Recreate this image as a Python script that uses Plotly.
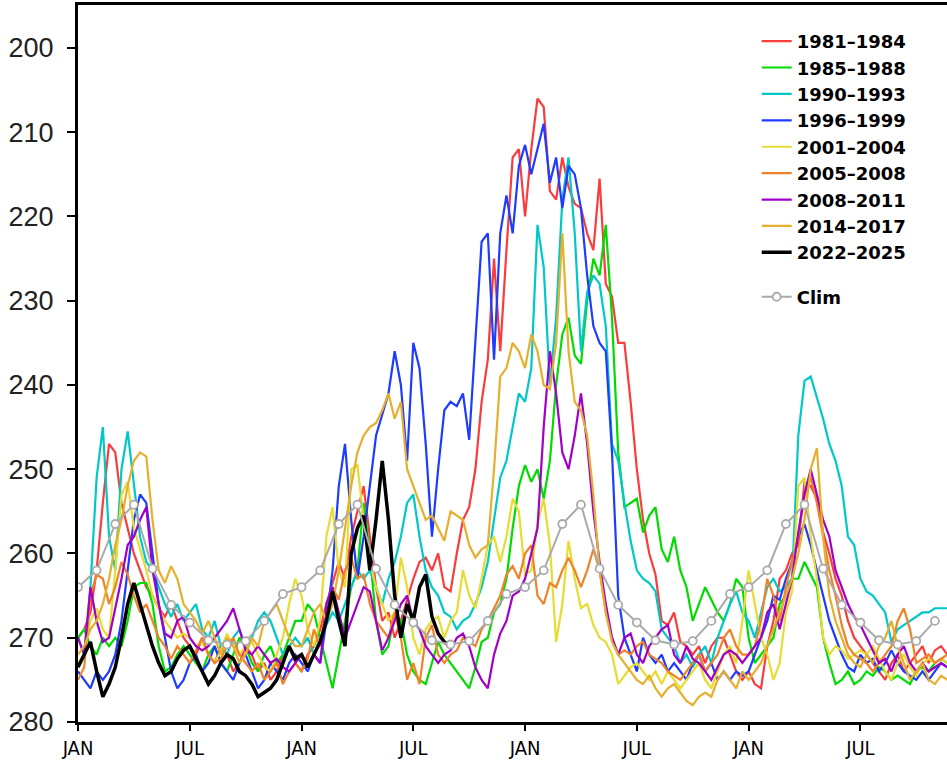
import numpy as np
import plotly.graph_objects as go

# Dekadal samples (3 per month), x in months since Jan of year 1
names = ["1981–1984", "1985–1988", "1990–1993", "1996–1999", "2001–2004",
         "2005–2008", "2008–2011", "2014–2017", "2022–2025"]
colors = ["rgb(250,60,60)", "rgb(0,220,0)", "rgb(0,200,200)", "rgb(30,60,255)",
          "rgb(230,220,50)", "rgb(240,130,40)", "rgb(160,0,200)", "rgb(230,175,45)", "black"]

red = [270, 269, 267, 262, 254, 247, 248, 254, 257, 260, 262, 264, 265, 266.5, 267.5, 266, 268, 270, 271, 272, 270, 272, 273, 271, 272, 274, 273, 271, 272, 274, 273, 275, 274, 272, 271, 273,
       274, 272, 271, 269, 266, 263.5, 261, 263, 258, 255, 252, 258, 264, 268, 267, 270, 268, 265.5, 263, 261, 260.5, 262, 260, 264, 264.5, 260, 256, 254.5, 250, 242, 237, 225, 236, 224, 213, 212,
       220, 212, 206, 207, 217, 218, 213, 216.5, 218.5, 219, 222, 224, 215.5, 228, 229.5, 235, 235, 242, 250, 256, 260, 262.5, 268, 268.5, 267, 270.5, 271, 272, 271, 273, 271, 270, 270, 272, 274, 275,
       274, 275.5, 276, 271, 268, 263, 262, 260, 259, 251.5, 252, 253.5, 257.5, 260, 263, 265, 268, 270, 271, 272, 273, 274, 275, 273, 272, 274, 273, 272, 271, 273, 271.5, 271, 272]
green = [270, 269, 271, 272, 270, 271, 270, 271, 268, 264, 263.5, 263.5, 266, 271, 274, 273.5, 272, 271, 272, 273, 274, 272, 271, 273, 274, 272, 270, 271, 273, 274, 272, 271, 273, 272, 270, 268,
         268, 266, 267, 270, 273, 276, 272, 268, 264, 262, 254, 260, 268, 272, 271, 267, 268, 272, 274, 275, 275.5, 273, 270.5, 272, 273, 274, 275, 276, 273.5, 270.5, 270, 267, 266, 263, 257, 252,
         249.5, 251.5, 250, 253.5, 249, 240, 234, 232, 236.5, 237.5, 230, 225, 227, 221, 232, 248, 254.5, 254, 253.5, 257.5, 255.5, 254.5, 259.5, 261, 258, 262, 264, 268, 266, 264, 265.5, 267, 268, 266, 263, 264,
         270, 273, 272, 271, 270, 266, 265, 263, 263, 261, 262.5, 264, 270, 273, 275.5, 275, 274, 275.5, 275, 274, 274.5, 273.5, 274, 275, 274.5, 275, 275.5, 274, 273.5, 274, 273, 272.5, 273]
cyan = [270, 272, 264, 251, 245, 258, 262, 250, 245.5, 252, 258, 261, 262, 264, 266, 267.5, 266, 268, 267, 266, 269, 270, 268, 271, 272, 270, 269, 271, 270, 268, 267, 268, 270, 272, 271, 270,
        271, 270, 272, 270, 268.5, 267, 268, 266, 264, 262, 263, 262, 264, 266, 263, 261, 258, 254, 253, 258, 262, 264, 265, 267, 267.5, 269, 268, 267.5, 266, 264, 261, 256, 251, 249, 245, 241,
        242, 238, 221, 226, 240, 232, 218, 213, 222, 236, 229, 227, 228, 233, 247, 249, 254, 258.5, 262, 263, 263.5, 264.5, 269, 270, 271, 273, 272, 273.5, 272, 271, 273, 270, 268, 266, 264.5, 267,
        268, 270, 267, 264, 263, 264.5, 264, 263, 246, 239.5, 239, 241.5, 244, 247, 249, 252, 258, 259, 263, 264.5, 265, 266, 267, 270.5, 269, 268.5, 268, 267.5, 267, 267, 266.5, 266.5, 266.5]
blue = [274, 275, 276, 274, 275, 274, 272, 268, 262, 256, 253, 254, 260, 266, 270, 274, 276, 275, 273, 272, 274, 273, 271, 273, 274, 275, 273, 272, 274, 276, 275, 273, 274, 275, 273, 272,
        273, 274, 272, 273, 268, 262, 252, 247, 256, 263, 258, 252, 246, 243.5, 241, 236, 240, 249, 235, 238, 247, 258, 250, 243, 242, 242.5, 241, 246.5, 235, 223, 222, 237, 222, 217.5, 222, 214,
        211.5, 215, 212, 209, 216, 213, 219, 214, 215, 219, 227, 233, 235, 236, 248, 265, 270, 272, 274, 270, 272, 273, 272, 274, 273, 274, 275, 273, 272, 274, 273, 275, 274, 275, 274, 274.5,
        274, 272, 270, 268, 265, 265.5, 263, 261, 258, 256.5, 259, 262, 265, 268, 270, 272, 273.5, 274, 272, 273, 272.5, 274, 273, 271.5, 273, 274, 274.5, 275, 274, 275, 274, 273, 273.5]
yellow = [273, 272, 268, 266.5, 269, 270, 262, 253, 251.5, 257, 259.5, 262, 265, 266.5, 268, 269, 270, 269.5, 270, 271, 270.5, 272, 273, 271.5, 269.5, 271, 272, 271, 270.5, 272, 273.5, 274, 272, 270, 266, 263,
          265, 269, 271, 268, 258, 254.5, 262, 264, 250, 249.5, 256, 261, 264, 266, 268, 267, 260.5, 264, 270, 272, 269, 268, 267.5, 270, 268, 267, 262, 265, 266.5, 263, 259, 258, 261, 258, 253.5, 255,
          262.5, 262, 256.5, 253.5, 259, 270.5, 266, 258.5, 263, 266.5, 266, 268.5, 270, 270.5, 272, 275.5, 274.5, 273.5, 273, 274, 275, 274, 275.5, 274, 275, 276, 275, 274, 273, 275, 276, 274, 272, 271, 273, 268,
          262, 266, 270, 272, 275, 273, 267, 264.5, 252, 251, 258, 263, 270, 272, 271, 271.5, 272.5, 272, 271.5, 272, 271, 272.5, 274, 275, 273, 272, 273.5, 274.5, 273, 272.5, 273, 272.5, 273]
orange = [275, 273.5, 265, 262.5, 263, 266, 264, 261, 262.5, 265, 267, 266, 268, 270, 271, 272.5, 271, 272, 273, 271.5, 270, 272, 273, 272.5, 271, 270, 272, 273, 274, 273, 275, 274, 273, 275.5, 274, 273,
          274, 272.5, 269, 271, 266, 264, 265.5, 262, 260.5, 263, 262.5, 266, 268, 269, 270, 267, 270, 275, 273, 275.5, 270, 268.5, 272, 273, 272, 271.5, 270, 270.5, 271, 269, 268, 266.5, 265, 262.5, 261.5, 263,
          260, 259, 265, 266, 263.5, 264, 262, 260.5, 262, 264, 262, 259.5, 262, 267, 270, 272, 271.5, 272, 271, 270.5, 272, 272.5, 273, 274, 274.5, 275, 274, 273, 272, 274, 273, 272, 270, 269, 271, 272,
          272, 271, 268, 263, 265, 268, 264, 261, 258, 253, 251, 254, 258, 262, 265, 268.5, 271, 272, 272.5, 273, 274, 273, 272, 271, 268, 266.5, 269, 273, 272.5, 272, 273, 272.5, 272]
purple = [270, 272, 264, 268, 270.5, 270, 266.5, 263, 259, 258, 256, 254.5, 262, 266, 269.5, 270, 268, 267.5, 270, 271, 271.5, 271, 270, 269, 268, 266.5, 269, 271.5, 272, 271, 272, 273, 272.5, 273.5, 274, 273,
          272, 273.5, 272, 273, 266, 264, 267, 270, 268, 266, 264, 264.5, 268, 271.5, 270, 268, 266, 265, 268, 269, 271, 272, 273, 272, 271.5, 270, 269.5, 271, 273.5, 275, 276, 272, 269.5, 268, 265, 264.5,
          263, 260, 257, 245, 236, 241, 248, 250, 246, 241, 247, 255, 261, 266, 270, 272, 270, 269.5, 272, 273, 271, 270, 269, 268.5, 272, 273, 271, 272.5, 273, 274, 275, 273.5, 272, 271.5, 272, 273,
          272, 271, 270, 267, 266, 269, 266, 263, 257.5, 253, 250, 253, 256, 258, 262, 264, 266, 267.5, 268.5, 270, 271.5, 273, 272.5, 274, 272, 271, 273, 274, 273, 274, 273.5, 273, 273.5]
gold = [272, 271, 269, 268, 266, 263, 259, 256, 252, 249, 248, 248.5, 256, 262, 263.5, 261.5, 263, 266, 267, 268, 269.5, 268, 270, 272, 270, 271, 273, 272, 270, 271, 268, 267, 266, 268, 270, 271,
        271, 269, 267, 266, 268, 266, 262, 257, 252, 248, 246, 245, 244.5, 243, 241, 244, 242, 250, 252, 254, 256, 255.5, 257, 258.5, 255, 255.5, 256, 259, 260.5, 259.5, 259, 250, 239, 238, 235, 236,
        238, 234, 236, 240, 240.5, 235, 222, 236, 242, 243, 246, 253, 262, 267, 270.5, 272, 273, 274, 275, 275.5, 274.5, 276, 277, 276, 275.5, 276.5, 277.5, 278, 277, 276.5, 277, 275, 274, 275, 276, 274,
        275, 274, 273, 271, 269, 267, 265, 263, 260, 256, 250, 247.5, 258, 265, 268, 270, 272, 273, 273.5, 272, 273, 271, 270, 268, 271, 273, 275, 274, 273, 275, 275.5, 274.5, 275]
black = [273.5, 272, 270.5, 274, 277, 275.5, 273.5, 270, 266, 263.5, 266, 268.5, 271, 273, 274.5, 274, 272.5, 271.5, 271, 272.5,
         274, 275.5, 274.5, 273, 272, 272.5, 274, 274.5, 275.5, 277, 276.5, 276, 275, 273, 271, 272.5, 272, 273.5, 272, 270.5,
         268, 264.5, 268, 271, 260, 257, 255.5, 262, 256, 249, 256, 265, 270, 266, 268, 264, 262.5, 267.5, 269.5, 270.5, 271]

clim_monthly = [264.0, 262.0, 256.5, 254.2, 261.8, 266.1, 268.2, 270.3, 270.8, 270.4, 268.0, 264.8]
clim = (clim_monthly * 4)[:47]
clim_months = list(range(47))

tick_months = [0, 6, 12, 18, 24, 30, 36, 42]
tick_labels = ["JAN", "JUL", "JAN", "JUL", "JAN", "JUL", "JAN", "JUL"]
y_ticks = [200, 210, 220, 230, 240, 250, 260, 270, 280]

series = [red, green, cyan, blue, yellow, orange, purple, gold, black]

fig = go.Figure()
for name, col, vals in zip(names, colors, series):
    xs = np.arange(len(vals)) / 3.0
    fig.add_trace(go.Scatter(
        x=xs, y=vals, mode="lines", name=name, legendgroup="a",
        line=dict(color=col, width=3.5 if col == "black" else 2.2),
    ))

fig.add_trace(go.Scatter(
    x=clim_months, y=clim, mode="lines+markers", name="Clim", legendgroup="b",
    line=dict(color="rgb(170,170,170)", width=2),
    marker=dict(symbol="circle", size=8, color="white",
                line=dict(color="rgb(170,170,170)", width=1.8)),
))

fig.update_layout(
    width=947, height=760,
    margin=dict(l=78, r=0, t=5, b=31),
    plot_bgcolor="white", paper_bgcolor="white",
    showlegend=True,
    legend=dict(
        x=0.781, y=0.975, xanchor="left", yanchor="top",
        bgcolor="rgba(0,0,0,0)",
        font=dict(family="DejaVu Sans", size=18, color="black", weight="bold"),
        traceorder="grouped", tracegroupgap=18,
    ),
)
fig.update_xaxes(
    range=[0, 46.65], tickvals=tick_months, ticktext=tick_labels,
    showgrid=False, zeroline=False,
    showline=True, linecolor="black", linewidth=3, mirror=True,
    ticks="outside", ticklen=6, tickwidth=2, tickcolor="black",
    tickfont=dict(family="Liberation Sans Narrow, DejaVu Sans Condensed, Liberation Sans", size=20, color="black"),
)
fig.update_yaxes(
    range=[280, 194.9], tickvals=y_ticks,
    showgrid=False, zeroline=False,
    showline=True, linecolor="black", linewidth=3, mirror=False,
    ticks="outside", ticklen=8, tickwidth=2, tickcolor="black",
    ticklabelstandoff=8,
    tickfont=dict(family="Liberation Sans", size=27, color="#222222"),
)

fig.write_html("out.html")
